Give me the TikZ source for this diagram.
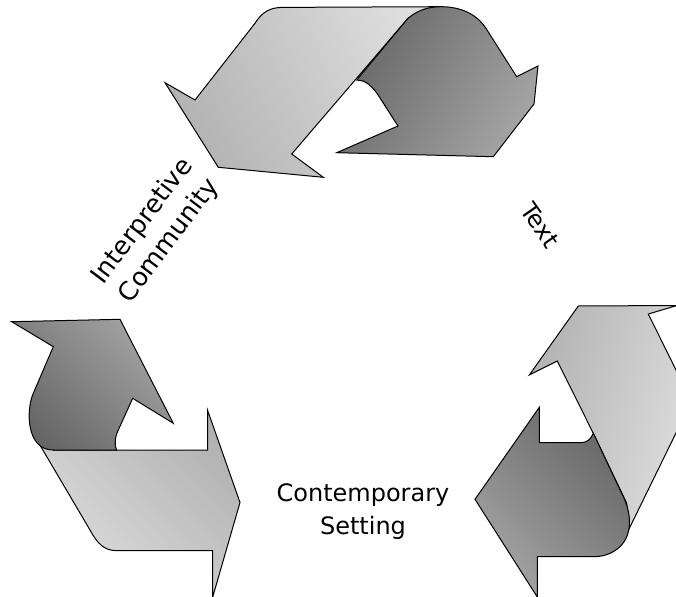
\documentclass[tikz,border=0pt]{standalone}
\usepackage{fontspec}
\setmainfont{DejaVu Sans}
\definecolor{paleA}{gray}{0.87}
\definecolor{paleB}{gray}{0.70}
\definecolor{deepA}{gray}{0.40}
\definecolor{deepB}{gray}{0.64}
\begin{document}
\begin{tikzpicture}[x=1pt,y=-1pt,
  outline/.style={draw=black,line width=1pt,line join=miter},
  band/.style n args={3}{outline,top color=#1,bottom color=#2,shading angle=#3},
  lbl/.style={font=\fontsize{24}{33}\selectfont,align=center,inner sep=0pt}]
\useasboundingbox (0,0) rectangle (676,596);
\clip (0,0) rectangle (676,596);

% upper arrow: pale strip pointing down-left, dark strip folded behind it
\path[band={paleA}{paleB}{-65}]
  (255,23.3) .. controls (262,12) and (270,7.6) .. (282,7.4) -- (440,6.7)
  -- (408,18.3) -- (291.7,154) -- (323.3,177.3) -- (218.3,167.3)
  -- (165,82.7) -- (195,100) -- cycle;
\path[band={deepA}{deepB}{60}]
  (408,18.3) .. controls (418,10) and (428,7) .. (440,6.7)
  .. controls (462,6.5) and (478,15) .. (487,30) -- (516.7,76.7)
  -- (538,66) -- (534,104) -- (493.3,156.7) -- (336.7,152.7)
  -- (398,126) -- (377,93.3) .. controls (370,84) and (364,80) .. (356.7,80)
  -- cycle;

% left arrow: dark strip rising to the upper left, pale strip pointing right
\path[band={paleB}{paleA}{-45}]
  (35,436.7) -- (90,530) .. controls (97,543) and (104,550.5) .. (116,550.6)
  -- (212.7,550.7) -- (212.7,597) -- (240,502.5) -- (207.5,410)
  -- (207.5,450) -- (53.3,450) -- cycle;
\path[band={deepB}{deepA}{-45}]
  (11.7,321.7) -- (120,319.3) -- (173.3,423.3) -- (132.7,398.3)
  -- (118.3,430) .. controls (114.5,438) and (114.5,445) .. (116.5,450)
  -- (53.3,450) .. controls (26,450) and (26,410) .. (33.3,393.3)
  -- (53.3,346.7) -- cycle;

% right arrow: pale strip rising to the upper right, dark strip pointing left
\path[band={paleB}{paleA}{75}]
  (578.3,306) -- (677,305.5) -- (648.3,314) -- (691.5,401.3)
  -- (628.5,530) -- (626.7,503.3) -- (593.3,433.3) -- (557.3,361)
  -- (529.3,375) -- cycle;
\path[band={deepA}{deepB}{-45}]
  (539.3,407.3) -- (539.3,442.7) -- (581,442.7)
  .. controls (587,442.7) and (591,439) .. (593.3,433.3) -- (623.3,496.7)
  .. controls (632,515) and (632,535) .. (620,546.7)
  .. controls (612,554) and (603,556.7) .. (593.3,556.7)
  -- (537.3,556.7) -- (537.3,597) -- (475,499.3) -- cycle;

% captions
\node[lbl,font=\fontsize{25.5}{33}\selectfont,rotate=53] (community) at (156,231) {Interpretive\\Community};
\node[lbl,rotate=-55] (text) at (540,225) {Text};
\node[lbl] (setting) at (363,512) {Contemporary\\Setting};
\end{tikzpicture}
\end{document}
